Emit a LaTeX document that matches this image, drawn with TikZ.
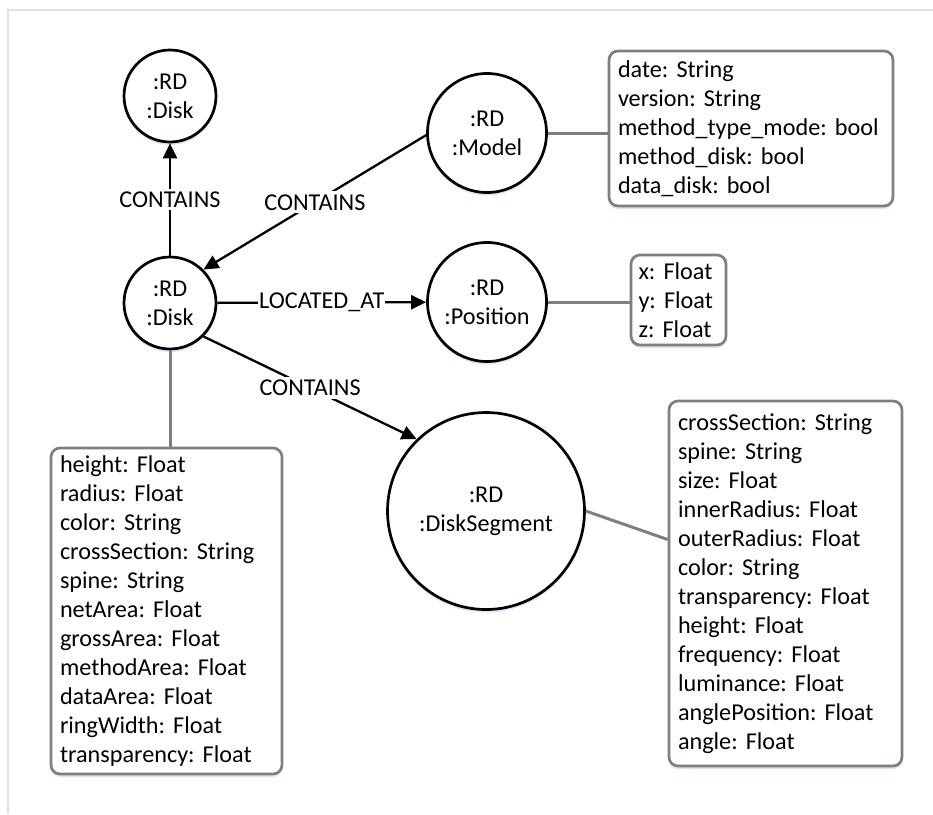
\documentclass[tikz,border=0pt]{standalone}
\usepackage{fontspec}
\setmainfont{Carlito}
\usetikzlibrary{arrows.meta,shapes.geometric,shadows}
\definecolor{boxgray}{RGB}{127,127,127}
\definecolor{framecol}{RGB}{222,225,233}
\definecolor{shadowcol}{RGB}{170,200,235}
\frenchspacing
\begin{document}
\begin{tikzpicture}[x=1pt,y=-1pt,
  txt/.style={font=\fontsize{24.2}{29}\selectfont},
  shadowy/.style={drop shadow={shadow xshift=0pt,shadow yshift=-3pt,fill=shadowcol,opacity=0.45}},
  ent/.style={txt,circle,draw=black,line width=2.7pt,fill=white,align=center,inner sep=0pt,shadowy},
  attr/.style={txt,draw=boxgray,line width=2.7pt,rounded corners=9pt,fill=white,align=left,inner xsep=9pt,inner ysep=0pt,shadowy},
  rel/.style={line width=2.3pt,-{Triangle[length=15pt,width=14pt]}},
  lbl/.style={txt,fill=white,inner xsep=1pt,inner ysep=3pt},
  link/.style={draw=boxgray,line width=3pt}]
\useasboundingbox (0,0) rectangle (933,814);
\draw[framecol,line width=1.2pt] (933,10) -- (8,10) -- (8,814);

% entities
\node[ent,minimum size=92pt] (disktop) at (170,96) {:RD\\:Disk};
\node[ent,minimum size=92pt] (disk) at (170,303) {:RD\\:Disk};
\node[ent,minimum size=119pt] (model) at (487,133) {:RD\\:Model};
\node[ent,minimum size=119pt] (pos) at (487,302) {:RD\\:Position};
\node[ent,minimum size=197pt] (seg) at (486,511) {:RD\\:DiskSegment};

% attribute boxes
\node[attr,minimum width=284pt,minimum height=155pt,text width=266pt] (modelattr) at (751,128.5)
  {date: String\\version: String\\method\_type\_mode: bool\\method\_disk: bool\\data\_disk: bool};
\node[attr,minimum width=95pt,minimum height=90pt,text width=80pt,inner xsep=7.5pt] (posattr) at (678.5,300)
  {x: Float\\y: Float\\z: Float};
\node[attr,minimum width=231pt,minimum height=326pt,text width=213pt] (diskattr) at (166.5,611)
  {height: Float\\radius: Float\\color: String\\crossSection: String\\spine: String\\netArea: Float\\grossArea: Float\\methodArea: Float\\dataArea: Float\\ringWidth: Float\\transparency: Float};
\node[attr,minimum width=233pt,minimum height=365pt,text width=215pt] (segattr) at (785.5,583.5)
  {crossSection: String\\spine: String\\size: Float\\innerRadius: Float\\outerRadius: Float\\color: String\\transparency: Float\\height: Float\\frequency: Float\\luminance: Float\\anglePosition: Float\\angle: Float};

% attribute links
\draw[link] (disk.south) -- (disk.south |- diskattr.north);
\draw[link] (model.east) -- (model.east -| modelattr.west);
\draw[link] (pos.east) -- (pos.east -| posattr.west);
\draw[link] (seg.east) -- ([yshift=44pt]segattr.west);

% relations
\draw[rel] (disk) -- node[lbl] {CONTAINS} (disktop);
\draw[rel] (model.182) -- node[lbl] {CONTAINS} (disk.45);
\draw[rel] (disk) -- node[lbl] {LOCATED\_AT} (pos);
\draw[rel] (disk.-45) -- node[lbl] {CONTAINS} (seg.134);
\end{tikzpicture}
\end{document}
